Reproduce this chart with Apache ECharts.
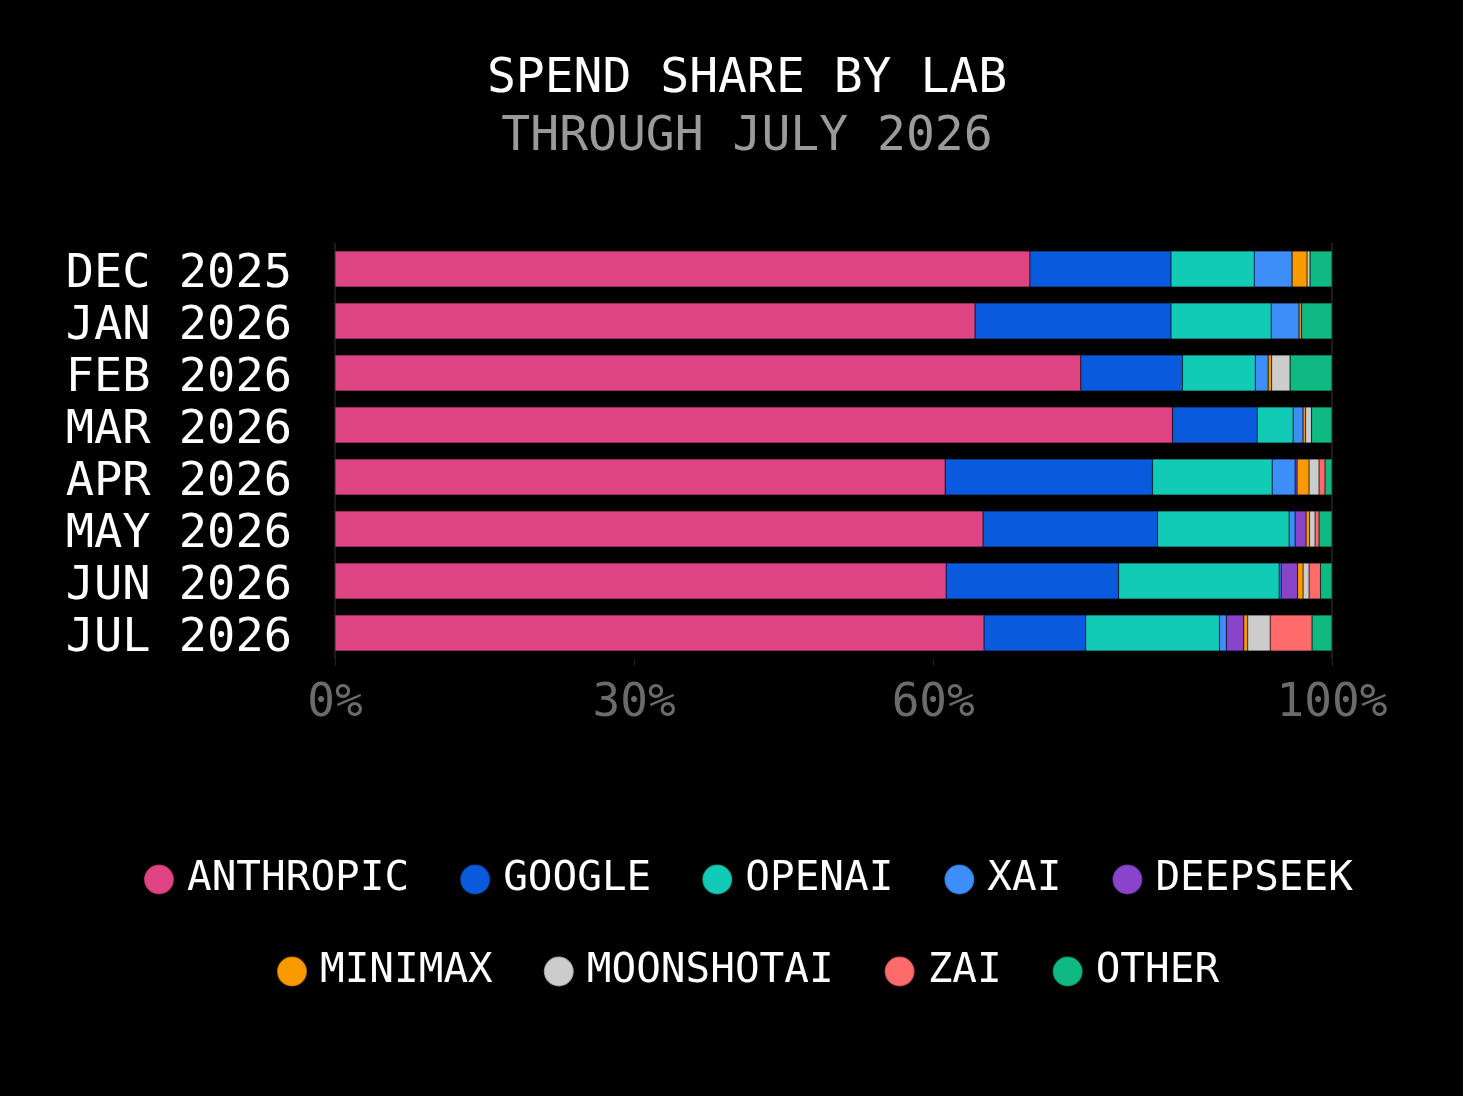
<!DOCTYPE html>
<html>
<head>
<meta charset="utf-8">
<script src="https://cdn.jsdelivr.net/npm/echarts@6/dist/echarts.min.js"></script>
<style>
html,body{margin:0;padding:0;background:#000;}
#chart{width:1463px;height:1096px;}
</style>
</head>
<body>
<div id="chart"></div>
<script>
const months = ['DEC 2025','JAN 2026','FEB 2026','MAR 2026','APR 2026','MAY 2026','JUN 2026','JUL 2026'];
const labs = ['ANTHROPIC','GOOGLE','OPENAI','XAI','DEEPSEEK','MINIMAX','MOONSHOTAI','ZAI','OTHER'];
const labColors = ['#de4383','#0a5ade','#12cbb6','#3d8ef8','#8a44cc','#f89a00','#cccccc','#ff6b6b','#10b981'];
const anthropic = [69.7, 64.2, 74.8, 84.0, 61.2, 65.0, 61.3, 65.1];
const google    = [14.15, 19.65, 10.2, 8.5, 20.8, 17.5, 17.3, 10.2];
const openai    = [8.35, 10.05, 7.3, 3.6, 12.0, 13.2, 16.1, 13.4];
const xai       = [3.8, 2.8, 1.3, 1.0, 2.3, 0.6, 0.2, 0.7];
const deepseek  = [0, 0, 0, 0, 0.2, 1.1, 1.65, 1.75];
const minimax   = [1.5, 0.25, 0.35, 0.25, 1.2, 0.35, 0.55, 0.4];
const moonshot  = [0.3, 0, 1.85, 0.6, 1.0, 0.55, 0.6, 2.25];
const zai       = [0, 0, 0, 0, 0.6, 0.4, 1.15, 4.2];
const other     = [2.2, 3.05, 4.2, 2.05, 0.7, 1.3, 1.15, 2.0];
const xTicks = [0, 30, 60, 100];
const seriesValues = [anthropic, google, openai, xai, deepseek, minimax, moonshot, zai, other];

const FONT = '"DejaVu Sans Mono", monospace';
const chart = echarts.init(document.getElementById('chart'));

const gridColors = [];
for (let v = 0; v <= 100; v += 10) gridColors.push(xTicks.indexOf(v) >= 0 ? '#1c1c1c' : 'rgba(0,0,0,0)');

const legendCommon = {
  icon: 'circle',
  itemWidth: 30,
  itemHeight: 30,
  itemGap: 50,
  padding: 0,
  textStyle: { color: '#ffffff', fontFamily: FONT, fontSize: 41, padding: [0, 0, 0, 8] }
};

chart.setOption({
  backgroundColor: '#000000',
  animation: false,
  title: {
    text: 'SPEND SHARE BY LAB',
    subtext: 'THROUGH JULY 2026',
    left: 747,
    textAlign: 'center',
    top: 51,
    padding: 0,
    itemGap: 0,
    textStyle: { color: '#ffffff', fontFamily: FONT, fontSize: 48, fontWeight: 'normal', lineHeight: 58 },
    subtextStyle: { color: '#9a9a9a', fontFamily: FONT, fontSize: 48, lineHeight: 58 }
  },
  legend: [
    Object.assign({}, legendCommon, { left: 143, top: 859, data: labs.slice(0, 5) }),
    Object.assign({}, legendCommon, { left: 276, top: 951, data: labs.slice(5) })
  ],
  grid: { left: 335, right: 131, top: 243, bottom: 437, containLabel: false },
  xAxis: {
    type: 'value',
    min: 0,
    max: 100,
    interval: 10,
    axisLine: { show: false },
    axisTick: { show: true, customValues: xTicks, length: 7, lineStyle: { color: '#222' } },
    axisLabel: {
      customValues: xTicks,
      color: '#6b6b6b', fontFamily: FONT, fontSize: 46, margin: 22,
      formatter: v => v + '%'
    },
    splitLine: { show: true, lineStyle: { color: gridColors, width: 2 } }
  },
  yAxis: {
    type: 'category',
    data: months,
    inverse: true,
    axisLine: { show: false },
    axisTick: { show: false },
    axisLabel: { interval: 0, color: '#ffffff', fontFamily: FONT, fontSize: 47, margin: 43, verticalAlign: 'top', lineHeight: 12 }
  },
  series: labs.map((name, i) => ({
    name: name,
    type: 'bar',
    stack: 'total',
    barWidth: 36,
    data: seriesValues[i],
    itemStyle: { color: labColors[i], borderColor: 'rgba(0,0,0,0.25)', borderWidth: 0.6 },
    emphasis: { disabled: true }
  }))
});
</script>
</body>
</html>
